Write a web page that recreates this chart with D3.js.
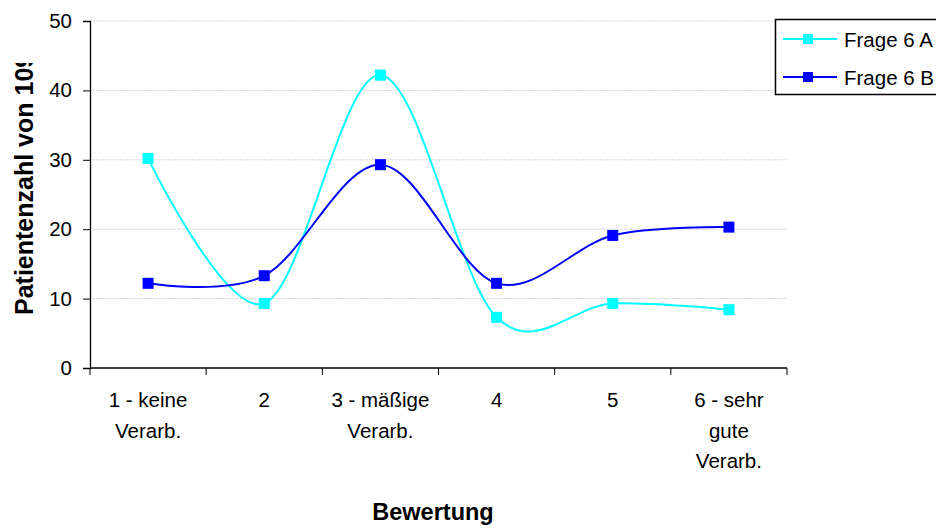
<!DOCTYPE html>
<html>
<head>
<meta charset="utf-8">
<script src="https://cdn.jsdelivr.net/npm/d3@7"></script>
<style>
  body { margin: 0; background: #fff; }
  text { font-family: Arial, "Liberation Sans", Helvetica, sans-serif; }
</style>
</head>
<body>
<div id="chart"></div>
<script>
// Data
const categories = [
  ["1 - keine", "Verarb."],
  ["2"],
  ["3 - mäßige", "Verarb."],
  ["4"],
  ["5"],
  ["6 - sehr", "gute", "Verarb."]
];
const frage6A = [30.2, 9.3, 42.2, 7.3, 9.3, 8.4];
const frage6B = [12.2, 13.3, 29.3, 12.2, 19.1, 20.3];
const yTicks = [0, 10, 20, 30, 40, 50];
const seriesNames = ["Frage 6 A", "Frage 6 B"];

const width = 936, height = 529;
const margin = { top: 21, left: 90, right: 149, bottom: 161 };

const svg = d3.select("#chart").append("svg")
  .attr("width", width)
  .attr("height", height);

const x = d3.scaleBand()
  .domain(d3.range(categories.length))
  .range([margin.left, width - margin.right]);

const y = d3.scaleLinear()
  .domain([0, 50])
  .range([height - margin.bottom, margin.top]);

// gridlines
svg.append("g")
  .selectAll("line")
  .data(yTicks.filter(d => d > 0))
  .join("line")
  .attr("x1", margin.left)
  .attr("x2", width - margin.right)
  .attr("y1", d => y(d))
  .attr("y2", d => y(d))
  .attr("stroke", "#d4d4d4")
  .attr("stroke-dasharray", "2,1");

// y axis
const yAxis = svg.append("g")
  .attr("transform", `translate(${margin.left},0)`)
  .call(d3.axisLeft(y).tickValues(yTicks).tickSize(7).tickPadding(11));
yAxis.select(".domain").attr("stroke", "#000").attr("stroke-width", 1.3);
yAxis.selectAll(".tick line").attr("stroke", "#000");
yAxis.selectAll("text")
  .style("font-size", "20.5px")
  .attr("fill", "#000");

// x axis
const xTickPos = d3.range(categories.length + 1).map(i => margin.left + i * x.step());
const xg = svg.append("g");
xg.append("line")
  .attr("x1", margin.left).attr("x2", width - margin.right)
  .attr("y1", y(0)).attr("y2", y(0))
  .attr("stroke", "#000").attr("stroke-width", 1.3);
xg.selectAll(".tk")
  .data(xTickPos)
  .join("line")
  .attr("class", "tk")
  .attr("x1", d => d).attr("x2", d => d)
  .attr("y1", y(0)).attr("y2", y(0) + 7)
  .attr("stroke", "#000");

xg.selectAll(".lbl")
  .data(categories)
  .join("text")
  .attr("class", "lbl")
  .attr("text-anchor", "middle")
  .style("font-size", "20.5px")
  .attr("fill", "#000")
  .each(function (d, i) {
    d3.select(this).selectAll("tspan")
      .data(d)
      .join("tspan")
      .attr("x", x(i) + x.bandwidth() / 2)
      .attr("y", (t, j) => 407 + j * 30.5)
      .text(t => t);
  });

// axis titles
svg.append("text")
  .attr("x", 433)
  .attr("y", 520)
  .attr("text-anchor", "middle")
  .style("font-size", "23.5px")
  .style("font-weight", "bold")
  .text("Bewertung");

// y title is cut off at the top in the original
svg.append("clipPath")
  .attr("id", "ylabClip")
  .append("rect")
  .attr("x", 0).attr("y", 63).attr("width", 60).attr("height", 400);

svg.append("g")
  .attr("clip-path", "url(#ylabClip)")
  .append("text")
  .attr("transform", "translate(33,315) rotate(-90)")
  .attr("text-anchor", "start")
  .style("font-size", "25px")
  .style("font-weight", "bold")
  .text("Patientenzahl von 109");

// lines
const colors = ["#00ffff", "#0000ff"];
const series = [frage6A, frage6B];
const line = d3.line()
  .x((d, i) => x(i) + x.bandwidth() / 2)
  .y(d => y(d))
  .curve(d3.curveCardinal.tension(0));

series.forEach((s, k) => {
  svg.append("path")
    .datum(s)
    .attr("fill", "none")
    .attr("stroke", colors[k])
    .attr("stroke-width", 2)
    .attr("d", line);
});
series.forEach((s, k) => {
  svg.append("g")
    .selectAll("rect")
    .data(s)
    .join("rect")
    .attr("x", (d, i) => x(i) + x.bandwidth() / 2 - 5.5)
    .attr("y", d => y(d) - 5.5)
    .attr("width", 11)
    .attr("height", 11)
    .attr("fill", colors[k]);
});

// legend
const legend = svg.append("g");
legend.append("rect")
  .attr("x", 775.5).attr("y", 19.5)
  .attr("width", 200).attr("height", 75)
  .attr("fill", "#fff")
  .attr("stroke", "#000")
  .attr("stroke-width", 1.5);
const li = legend.selectAll(".li")
  .data(seriesNames)
  .join("g")
  .attr("class", "li")
  .attr("transform", (d, i) => `translate(0, ${39 + i * 38})`);
li.append("line")
  .attr("x1", 783).attr("x2", 837)
  .attr("stroke", (d, i) => colors[i])
  .attr("stroke-width", 2);
li.append("rect")
  .attr("x", 803).attr("y", -5)
  .attr("width", 10).attr("height", 10)
  .attr("fill", (d, i) => colors[i]);
li.append("text")
  .attr("x", 844)
  .attr("y", 7.5)
  .style("font-size", "20.5px")
  .text(d => d);
</script>
</body>
</html>
